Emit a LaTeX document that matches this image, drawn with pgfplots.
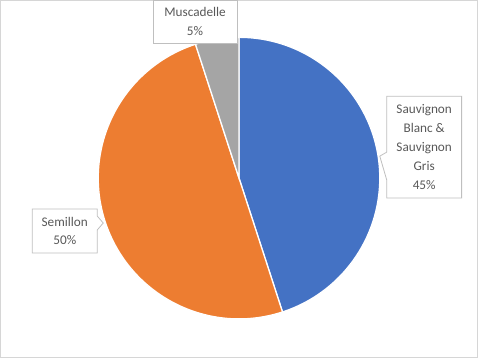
\documentclass[border=0pt]{standalone}
\usepackage{pgfplots}
\pgfplotsset{compat=1.18}
\usepackage{fontspec}
\setmainfont{Carlito}
\definecolor{sblue}{HTML}{4472C4}
\definecolor{sorange}{HTML}{ED7D31}
\definecolor{sgray}{HTML}{A5A5A5}
\definecolor{txt}{HTML}{595959}
\definecolor{boxc}{HTML}{BFBFBF}
% data (percent)
\def\vA{45}% Sauvignon Blanc & Sauvignon Gris
\def\vB{50}% Semillon
\def\vC{5}% Muscadelle
\pgfmathsetmacro\aA{90}
\pgfmathsetmacro\aB{\aA-3.6*\vA}
\pgfmathsetmacro\aC{\aB-3.6*\vB}
\pgfmathsetmacro\aD{\aC-3.6*\vC}
\begin{document}
\begin{tikzpicture}
\begin{axis}[
  width=478bp, height=358bp, scale only axis,
  xmin=0, xmax=478, ymin=0, ymax=358,
  axis lines=box, ticks=none,
  axis line style={color=black!16, line width=0.8bp},
  clip=false,
]
\def\cx{239}\def\cy{180}
\filldraw[fill=sblue, draw=white, line width=1.3bp] (axis cs:\cx,\cy) -- ++(\aA:141bp) arc[start angle=\aA, end angle=\aB, radius=141bp] -- cycle;
\filldraw[fill=sorange, draw=white, line width=1.3bp] (axis cs:\cx,\cy) -- ++(\aB:141bp) arc[start angle=\aB, end angle=\aC, radius=141bp] -- cycle;
\filldraw[fill=sgray, draw=white, line width=1.3bp] (axis cs:\cx,\cy) -- ++(\aC:141bp) arc[start angle=\aC, end angle=\aD, radius=141bp] -- cycle;
% callouts
\filldraw[fill=white, draw=boxc, line width=0.8bp] (axis cs:153,315) rectangle (axis cs:237,358);
\node[txt, align=center, font=\fontsize{13.3}{19}\selectfont] at (axis cs:195,336.5) {Muscadelle\\5\%};
\filldraw[fill=white, draw=boxc, line width=0.8bp] (axis cs:387,262) -- (axis cs:462,262) -- (axis cs:462,160) -- (axis cs:387,160) -- (axis cs:387,178) -- (axis cs:380,202) -- (axis cs:387,206) -- cycle;
\node[txt, align=center, font=\fontsize{13.3}{19}\selectfont] at (axis cs:424.5,211) {Sauvignon\\Blanc \&\\Sauvignon\\Gris\\45\%};
\filldraw[fill=white, draw=boxc, line width=0.8bp] (axis cs:32,149) -- (axis cs:97,149) -- (axis cs:97,142) -- (axis cs:103,135) -- (axis cs:97,128) -- (axis cs:97,105) -- (axis cs:32,105) -- cycle;
\node[txt, align=center, font=\fontsize{13.3}{19}\selectfont] at (axis cs:64.5,127) {Semillon\\50\%};
\end{axis}
\end{tikzpicture}
\end{document}
